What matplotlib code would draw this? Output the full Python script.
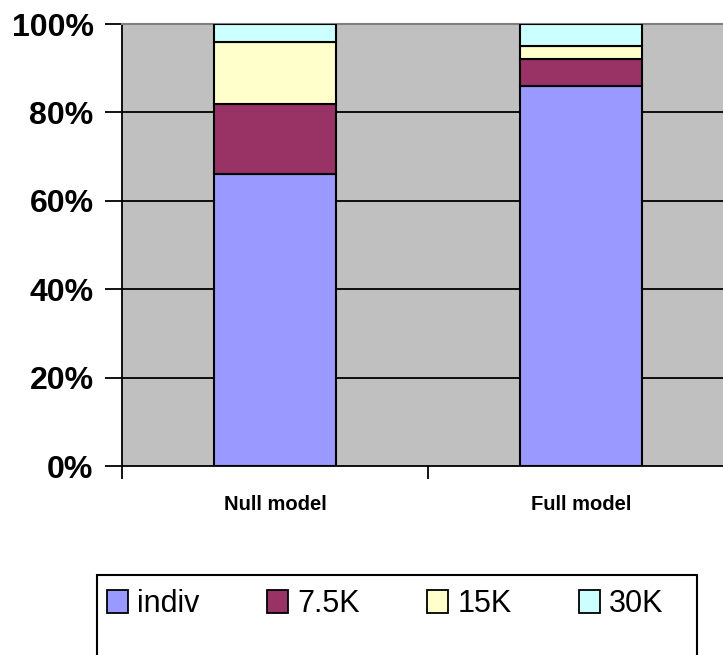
import matplotlib
matplotlib.use("Agg")
import matplotlib.pyplot as plt
from matplotlib.patches import Rectangle, Patch
from matplotlib.ticker import FuncFormatter
import numpy as np

categories = ["Null model", "Full model"]
series_names = ["indiv", "7.5K", "15K", "30K"]
indiv = [66, 86]
k7_5 = [16, 6]
k15 = [14, 3]
k30 = [4, 5]
colors = ["#9999FF", "#993366", "#FFFFCC", "#CCFFFF"]
yticks = [0, 20, 40, 60, 80, 100]

fig = plt.figure(figsize=(7.23, 6.55), dpi=100)
ax = fig.add_axes([122/723, 1-466/655, 612/723, 442/655])
ax.set_facecolor("#C0C0C0")

x = np.arange(len(categories))
bottom = np.zeros(len(categories))
for vals, col in zip([indiv, k7_5, k15, k30], colors):
    ax.bar(x, vals, width=0.4, bottom=bottom, color=col, edgecolor="black",
           linewidth=1.5, zorder=3)
    bottom += np.array(vals)

ax.set_xlim(-0.5, 1.5)
ax.set_ylim(0, 100)
ax.set_yticks(yticks)
ax.yaxis.set_major_formatter(FuncFormatter(lambda v, p: f"{v:.0f}%"))
for yv in yticks[1:-1]:
    ax.axhline(yv, color="black", linewidth=1.3, zorder=1)

ax.set_xticks([-0.5, 0.5, 1.5], minor=False)
ax.set_xticklabels(["", "", ""])
ax.set_xticks(x, minor=True)
ax.set_xticklabels(categories, minor=True)
ax.tick_params(axis="x", which="minor", length=0, pad=21)
ax.tick_params(axis="x", which="major", length=9, width=1.3, direction="out")
ax.tick_params(axis="y", length=12, width=1.3, direction="out", pad=8.5)
for lab in ax.get_xticklabels(minor=True):
    lab.set_fontfamily("Liberation Sans")
    lab.set_fontweight("bold")
    lab.set_fontsize(14.5)
for lab in ax.get_yticklabels():
    lab.set_fontfamily("Liberation Sans")
    lab.set_fontweight("bold")
    lab.set_fontsize(23)

for s in ["left", "bottom"]:
    ax.spines[s].set_linewidth(1.3)
    ax.spines[s].set_color("black")
ax.spines["top"].set_color("#808080")
ax.spines["top"].set_linewidth(1.5)
ax.spines["right"].set_visible(False)

# legend frame
fig.patches.append(Rectangle((97/723, -0.05), 600/723, 1-575/655+0.05,
                             transform=fig.transFigure, fill=False,
                             edgecolor="black", linewidth=1.5))
handles = [Patch(facecolor=c, edgecolor="black", linewidth=1.3) for c in colors]
leg = fig.legend(handles, series_names, ncol=4, loc="center left",
                 bbox_to_anchor=(107/723, 1-604/655), frameon=False,
                 prop={"family": "Liberation Sans", "size": 22},
                 handlelength=0.69, handleheight=0.82, handletextpad=0.3,
                 columnspacing=2.2, borderpad=0, borderaxespad=0)

fig.savefig("out.png", dpi=100)
